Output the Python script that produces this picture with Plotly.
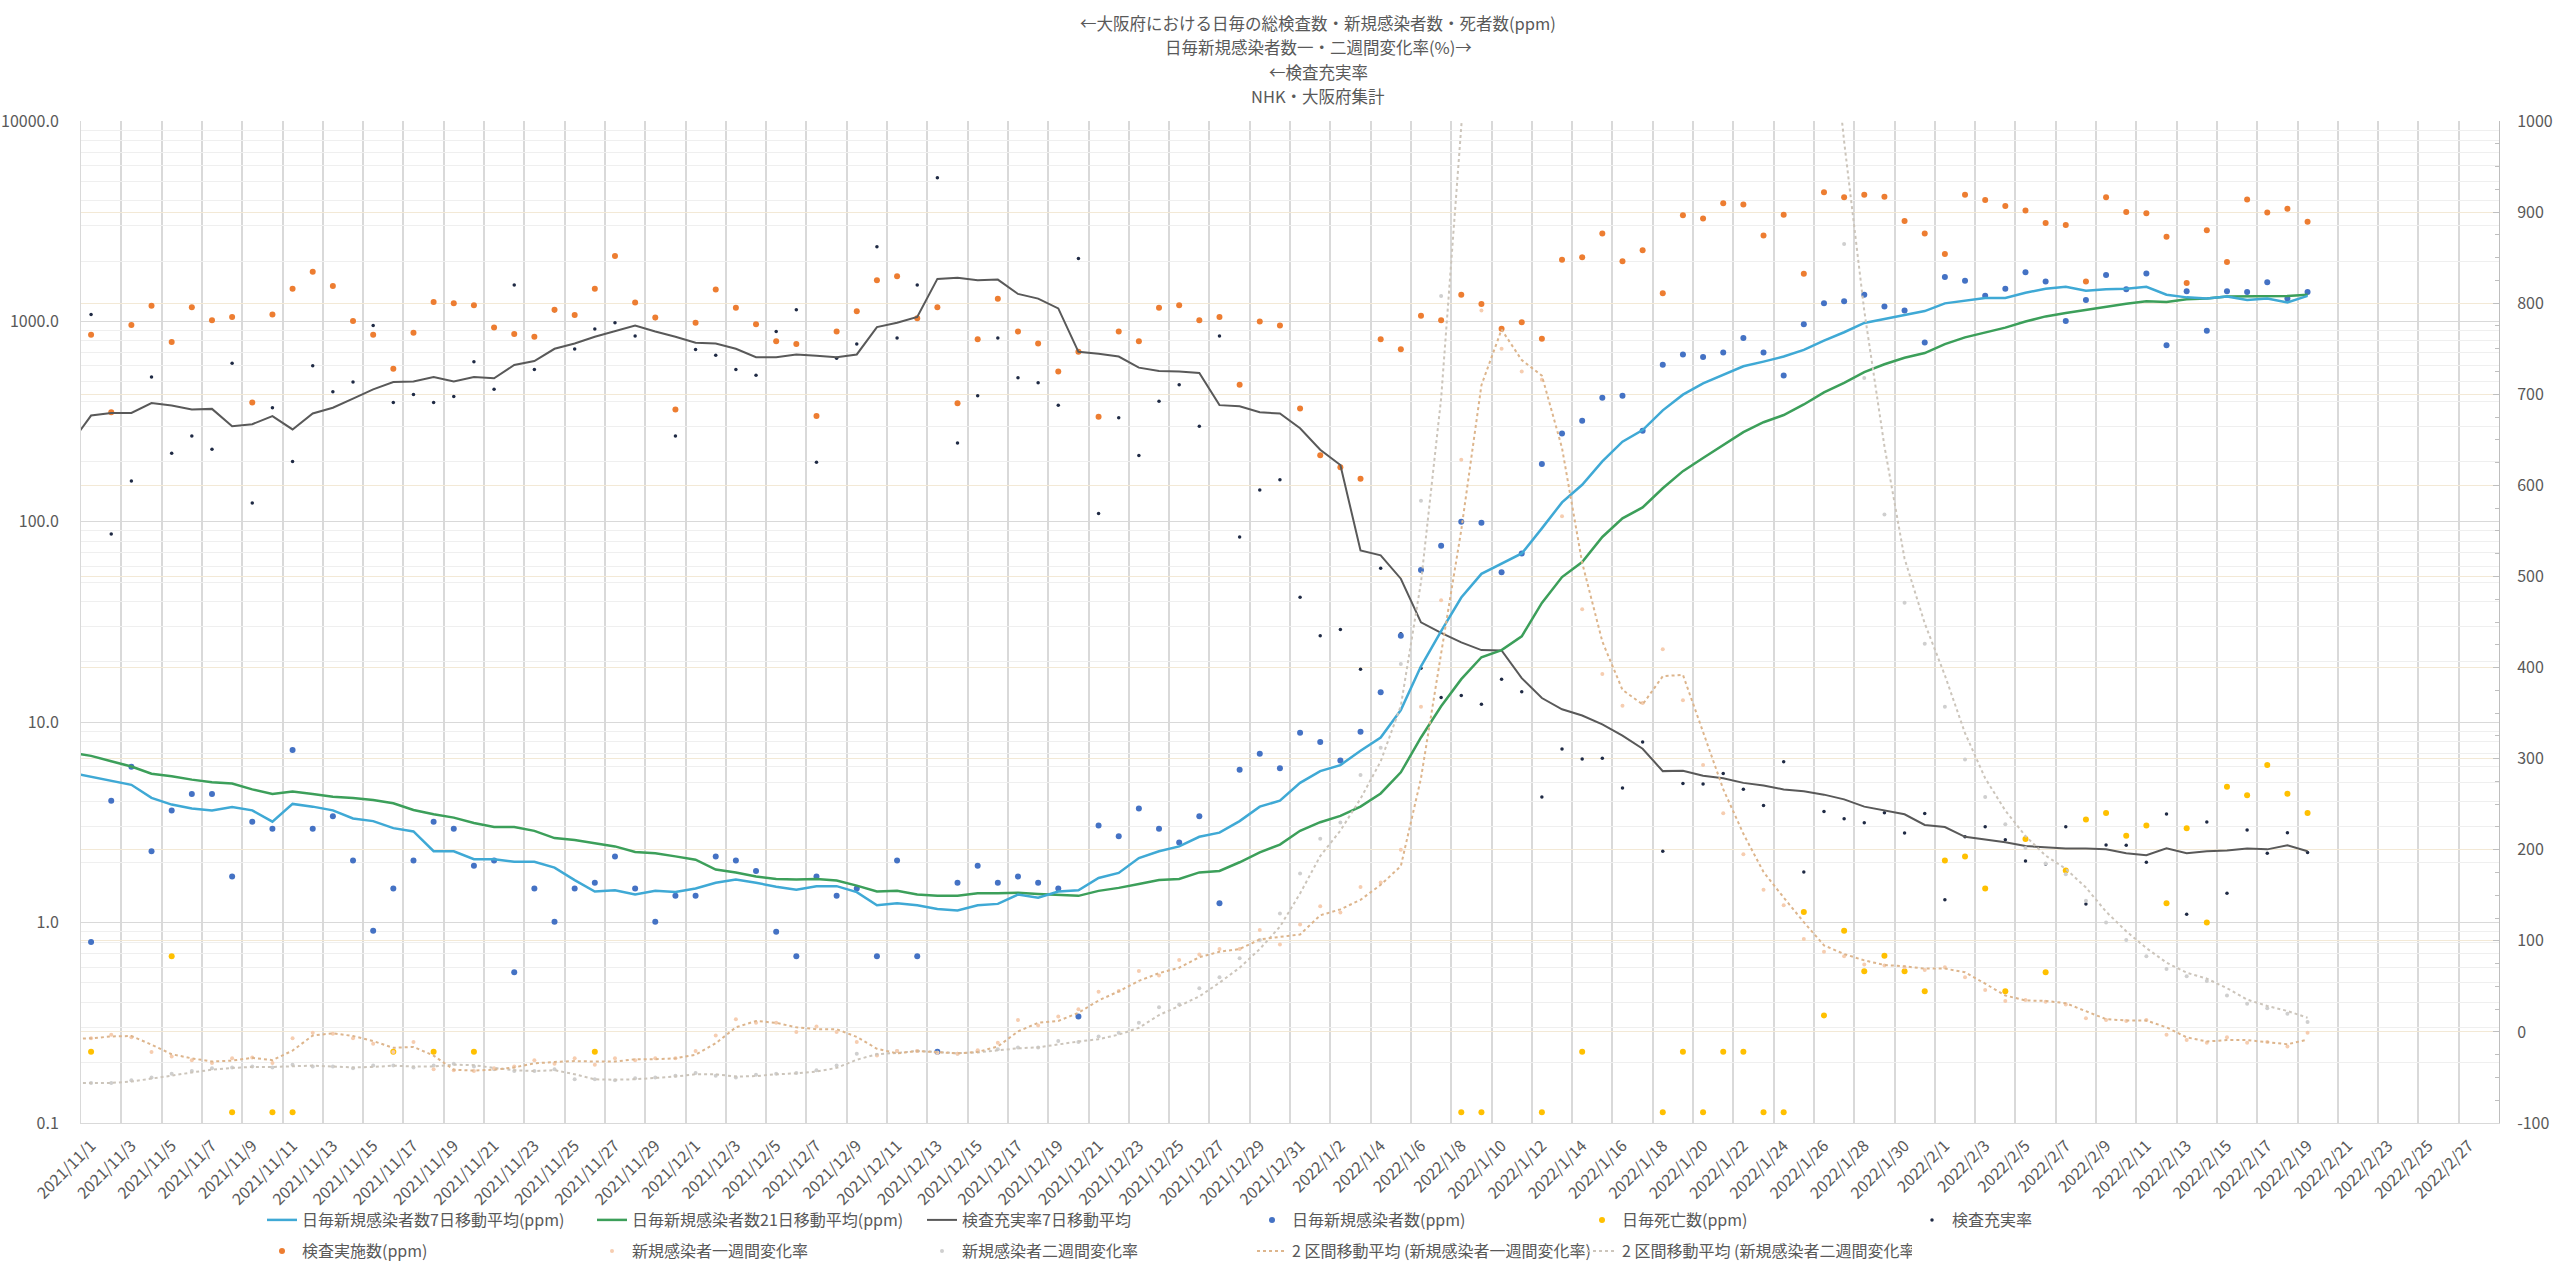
import pandas as pd
import plotly.graph_objects as go

N = None
# daily index: 2021/10/30 ... 2022/2/19 (first two days only feed the moving-average lines)
dates = pd.date_range("2021-10-30", "2022-02-19", freq="D")
x = [(d - pd.Timestamp("2021-11-01")).days for d in dates]

# 日毎新規感染者数(ppm)
new_cases = [N, N,
    0.80, 4.06, 6.0, 2.27, 3.63, 4.38, 4.38, 1.70, 3.19, 2.94,
    7.26, 2.94, 3.39, 2.04, 0.91, 1.48, 2.04, 3.19, 2.94, 1.92,
    2.04, 0.566, 1.48, 1.01, 1.48, 1.58, 2.14, 1.48, 1.01, 1.36,
    1.36, 2.14, 2.04, 1.81, 0.90, 0.68, 1.70, 1.36, 1.48, 0.68,
    2.04, 0.68, 0.227, 1.58, 1.92, 1.58, 1.70, 1.58, 1.48, 0.34,
    3.05, 2.70, 3.71, 2.94, 2.51, 3.39, 1.25, 5.79, 6.95, 5.89,
    8.85,
    7.96, 6.44, 8.97, 14.1, 27.0, 57.4, 76, 100, 99, 56,
    69.5, 194, 276, 319, 416, 425, 285, 607, 684, 664,
    700, 826, 700, 537, 968, 1233, 1262, 1359, 1186, 1132,
    784,
    1667, 1596, 1341, 1455, 1757, 1581, 1005, 1280, 1706, 1445,
    1734, 760, 1413, 897, 1413, 1403, 1570, 1300, 1403]

# 検査実施数(ppm)
tests = [N, N,
    857, 352, 960, 1196, 789, 1178, 1013, 1052, 394, 1084,
    1455, 1771, 1500, 1005, 857, 580, 877, 1251, 1233, 1205,
    933, 865, 839, 1143, 1076, 1455, 2122, 1242, 1045, 363,
    984, 1444, 1169, 968, 795, 772, 337, 891, 1125, 1603,
    1679, 1036, 1178, 391, 814, 1299, 891, 776, 562, 705,
    334, 891, 795, 1169, 1205, 1013, 1052, 483, 998, 953,
    368,
    215, 187, 164, 814, 726, 1067, 1013, 1358, 1222, 918,
    990, 820, 2028, 2088, 2744, 1995, 2268, 1380, 3388, 3264,
    3882, 3826, 2685, 3410, 1731, 4415, 4159, 4285, 4185, 3167,
    2744,
    2171, 4285, 4034, 3767, 3575, 3097, 3027, 1581, 4159, 3516,
    3467, 2642, 1556, 2849, 1981, 4063, 3491, 3652, 3142]

# 検査充実率 (daily)
ratio = [N, N,
    1084, 87, 160, 528, 220, 268, 230, 619, 124, 371,
    200, 601, 445, 498, 953, 394, 432, 394, 422, 629,
    458, 1520, 575, 1130, 729, 916, 984, 845, 1035, 268,
    724, 677, 575, 538, 891, 1143, 198, 655, 772, 2361,
    826, 1520, 5212, 247, 425, 826, 524, 494, 382, 2061,
    110, 331, 214, 400, 483, 300, 845, 84, 144, 162,
    42,
    27, 29, 18.4, 58.7, 27.6, 18.6, 13.3, 13.6, 12.3, 16.4,
    14.2, 4.23, 7.35, 6.55, 6.60, 4.69, 7.96, 2.27, 4.95, 4.92,
    5.55, 4.63, 3.84, 6.35, 1.79, 3.58, 3.30, 3.15, 3.53, 2.80,
    3.50,
    1.30, 2.68, 3.01, 2.59, 2.03, 1.96, 3.01, 1.24, 2.44, 2.43,
    2.00, 3.48, 1.10, 3.18, 1.40, 2.90, 2.22, 2.81, 2.24]

# 日毎死亡数(ppm)
deaths = [N, N,
    0.227, N, N, N, 0.68, N, N, 0.113, N, 0.113,
    0.113, N, N, N, N, 0.227, N, 0.227, N, 0.227,
    N, N, N, N, N, 0.227, N, N, N, N,
    N, N, N, N, N, N, N, N, N, N,
    N, N, N, N, N, N, N, N, N, N,
    N, N, N, N, N, N, N, N, N, N,
    N,
    N, N, N, N, N, N, N, 0.113, 0.113, N,
    N, 0.113, N, 0.227, N, N, N, 0.113, 0.227, 0.113,
    0.227, 0.227, 0.113, 0.113, 1.13, 0.344, 0.91, 0.571, 0.684, 0.571,
    0.454,
    2.04, 2.14, 1.48, 0.454, 2.61, 0.566, 1.82, 3.27, 3.52, 2.71,
    3.05, 1.25, 2.96, 1.00, 4.76, 4.32, 6.11, 4.40, 3.52]

# 検査充実率7日移動平均
ratio_ma7 = [N, 247,
    339, 349, 349, 391, 380, 363, 366, 300, 307, 337,
    289, 347, 371, 412, 458, 498, 501, 528, 501, 528,
    520, 606, 634, 730, 776, 839, 898, 953, 891, 839,
    782, 776, 730, 663, 663, 684, 673, 663, 684, 937,
    984, 1052, 1630, 1653, 1603, 1617, 1371, 1299, 1161, 705,
    689, 668, 588, 566, 562, 553, 382, 377, 352, 347,
    293,
    229, 192, 72, 68, 52, 31.5, 27.9, 25, 22.9, 22.8,
    16.6, 13.2, 11.6, 10.8, 9.75, 8.57, 7.37, 5.70, 5.72, 5.41,
    5.25, 4.98, 4.83, 4.62, 4.52, 4.35, 4.12, 3.79, 3.63, 3.47,
    3.07,
    3.00, 2.68, 2.60, 2.52, 2.41, 2.37, 2.34, 2.34, 2.32, 2.22,
    2.17, 2.35, 2.22, 2.27, 2.29, 2.34, 2.32, 2.43, 2.27]

# 日毎新規感染者数7日移動平均(ppm)
cases_ma7 = [N, 5.6,
    5.33, 5.09, 4.87, 4.19, 3.88, 3.71, 3.63, 3.77, 3.63, 3.19,
    3.91, 3.79, 3.63, 3.31, 3.21, 2.96, 2.85, 2.27, 2.27, 2.07,
    2.07, 2.01, 2.01, 1.88, 1.63, 1.43, 1.45, 1.38, 1.44, 1.42,
    1.48, 1.58, 1.64, 1.58, 1.51, 1.46, 1.52, 1.52, 1.42, 1.22,
    1.25, 1.22, 1.17, 1.15, 1.22, 1.24, 1.38, 1.33, 1.43, 1.45,
    1.67, 1.77, 2.10, 2.27, 2.40, 2.68, 2.81, 3.21, 3.79, 4.06,
    4.98,
    5.70, 6.11, 7.21, 8.39, 11.5, 19.0, 28.5, 41.9, 55, 62,
    69.5, 92.7, 125, 153, 200, 251, 287, 360, 431, 491,
    541, 597, 630, 668, 721, 802, 883, 982, 1028, 1076,
    1126,
    1230, 1270, 1309, 1309, 1390, 1455, 1489, 1422, 1445, 1455,
    1489, 1359, 1318, 1300, 1330, 1280, 1300, 1242, 1340]

# 日毎新規感染者数21日移動平均(ppm)
cases_ma21 = [N, 7.05,
    6.79, 6.39, 6.01, 5.53, 5.37, 5.17, 5.02, 4.94, 4.62, 4.38,
    4.51, 4.38, 4.25, 4.19, 4.09, 3.94, 3.65, 3.47, 3.34, 3.14,
    3.00, 3.00, 2.87, 2.64, 2.58, 2.49, 2.40, 2.25, 2.22, 2.14,
    2.06, 1.84, 1.78, 1.70, 1.65, 1.64, 1.65, 1.62, 1.53, 1.43,
    1.44, 1.38, 1.36, 1.36, 1.40, 1.40, 1.41, 1.39, 1.38, 1.36,
    1.44, 1.49, 1.56, 1.63, 1.65, 1.78, 1.81, 2.00, 2.24, 2.45,
    2.87,
    3.17, 3.41, 3.79, 4.41, 5.62, 8.39, 12.0, 16.4, 21.1, 22.9,
    26.8, 39.4, 53, 63, 84, 104, 118, 147, 179, 208,
    241, 280, 314, 341, 385, 442, 494, 558, 611, 659,
    695,
    770, 832, 883, 931, 998, 1059, 1101, 1143, 1186, 1224,
    1262, 1250, 1290, 1300, 1330, 1330, 1340, 1340, 1360]

# 新規感染者一週間変化率(%)
week1 = [-8, -7,
    -7, -3, -6, -22, -27, -31, -34, -29, -28, -34,
    -7, -1, -2, -7, -13, -22, -11, -41, -42, -43,
    -40, -38, -31, -35, -29, -36, -29, -31, -29, -29,
    -21, -4, 14, 10, 10, 0, 6, 0, -11, -26,
    -21, -21, -23, -24, -20, -12, 13, 7, 17, 25,
    44, 45, 67, 62, 79, 85, 91, 91, 112, 96,
    118,
    138, 131, 159, 164, 200, 357, 474, 628, 792, 750,
    725, 716, 566, 464, 393, 358, 361, 420, 364, 293,
    240, 195, 156, 139, 102, 88, 83, 74, 73, 71,
    68,
    71, 60, 46, 34, 35, 33, 30, 15, 13, 12,
    13, -3, -9, -12, -6, -12, -11, -16, -1]

# 新規感染者二週間変化率(%)
week2 = [-56, -56,
    -56, -56, -53, -50, -46, -43, -40, -39, -38, -39,
    -36, -38, -38, -40, -37, -37, -39, -37, -35, -38,
    -41, -43, -43, -41, -52, -52, -53, -51, -50, -48,
    -45, -48, -50, -47, -46, -45, -42, -37, -24, -25,
    -21, -21, -23, -24, -21, -19, -17, -17, -10, -11,
    -5, -1, 10, 27, 30, 48, 60, 81, 101, 130,
    174,
    212, 230, 282, 312, 404, 583, 808, 1180, 1390, 1520,
    1500, 1770, 2240, 2400, 2890, 3380, 3380, 3600, 3330, 2570,
    1970, 1570, 1340, 1280, 1290, 1090, 865, 718, 568, 471,
    426,
    357, 299, 258, 228, 202, 185, 173, 144, 120, 101,
    83, 69, 61, 56, 40, 31, 26, 20, 11]

for arr in (new_cases, tests, ratio, deaths, ratio_ma7, cases_ma7, cases_ma21, week1, week2):
    assert len(arr) == len(x), len(arr)

# Excel "2区間移動平均" trendlines
week1_trend = pd.Series(week1, dtype=float).rolling(2).mean().tolist()
week2_trend = pd.Series(week2, dtype=float).rolling(2).mean().tolist()

tick_dates = pd.date_range("2021-11-01", periods=60, freq="2D")
tick_vals = [(d - pd.Timestamp("2021-11-01")).days for d in tick_dates]
tick_text = [f"{d.year}/{d.month}/{d.day}" for d in tick_dates]

left_vals = [0.1, 1, 10, 100, 1000, 10000]
left_text = ["0.1", "1.0", "10.0", "100.0", "1000.0", "10000.0"]
right_vals = list(range(-100, 1001, 100))
right_text = [str(v) for v in right_vals]

title_lines = ["←大阪府における日毎の総検査数・新規感染者数・死者数(ppm)",
               "日毎新規感染者数一・二週間変化率(%)→",
               "←検査充実率",
               "NHK・大阪府集計"]

FONT = "Noto Sans CJK JP"
TXT = "#595959"
W, H = 2560, 1268
L, R, T, B = 81, 61, 121, 145
PW, PH = W - L - R, H - T - B

fig = go.Figure()

def add(y, name, legend, rank, yaxis="y", mode="markers", **kw):
    fig.add_trace(go.Scatter(x=x, y=y, name=name, mode=mode, yaxis=yaxis,
                             legend=legend, legendrank=rank, hoverinfo="skip", **kw))

# faint change-rate dots and their trendlines (secondary axis)
add(week2, "新規感染者二週間変化率", "legend2", 3, yaxis="y2",
    marker=dict(size=4, color="#CFCFCF"))
add(week1, "新規感染者一週間変化率", "legend2", 2, yaxis="y2",
    marker=dict(size=4, color="#F6CDB0"))
add(week2_trend, "2 区間移動平均 (新規感染者二週間変化率)", "legend2", 5, yaxis="y2",
    mode="lines", line=dict(color="#CCC5BB", width=2, dash="dot"))
add(week1_trend, "2 区間移動平均 (新規感染者一週間変化率)", "legend2", 4, yaxis="y2",
    mode="lines", line=dict(color="#DDB58C", width=2, dash="dot"))

# daily dots (primary log axis)
add(ratio, "検査充実率", "legend", 6, marker=dict(size=3.5, color="#1F2A44"))
add(tests, "検査実施数(ppm)", "legend2", 1, marker=dict(size=6, color="#ED7D31"))
add(deaths, "日毎死亡数(ppm)", "legend", 5, marker=dict(size=6, color="#FFC000"))
add(new_cases, "日毎新規感染者数(ppm)", "legend", 4, marker=dict(size=6, color="#4472C4"))

# moving-average lines
add(ratio_ma7, "検査充実率7日移動平均", "legend", 3, mode="lines",
    line=dict(color="#595959", width=2))
add(cases_ma21, "日毎新規感染者数21日移動平均(ppm)", "legend", 2, mode="lines",
    line=dict(color="#3C9F5A", width=2.5))
add(cases_ma7, "日毎新規感染者数7日移動平均(ppm)", "legend", 1, mode="lines",
    line=dict(color="#3FA9D5", width=2.5))

minor_vals = [m * 10 ** e for e in range(-1, 4) for m in range(2, 10)]

leg_common = dict(orientation="h", xanchor="left", yanchor="middle",
                  x=(262 - L) / PW, font=dict(family=FONT, size=16, color=TXT),
                  entrywidth=285, entrywidthmode="pixels", itemwidth=30,
                  bgcolor="rgba(0,0,0,0)", borderwidth=0, tracegroupgap=0)

fig.update_layout(
    width=W, height=H, autosize=False,
    margin=dict(l=L, r=R, t=T, b=B, pad=0, autoexpand=False),
    paper_bgcolor="white", plot_bgcolor="white",
    font=dict(family=FONT, size=16, color=TXT),
    showlegend=True,
    legend=dict(leg_common, y=(T + PH - 1220) / PH),
    legend2=dict(leg_common, y=(T + PH - 1251) / PH),
    xaxis=dict(range=[-0.5, 119.5], tickmode="array", tickvals=tick_vals,
               ticktext=tick_text, tickangle=-45, showgrid=False, zeroline=False,
               ticks="", ticklabelstandoff=6, automargin=False,
               tickfont=dict(family=FONT, size=16, color=TXT),
               showline=True, linecolor="#D9D9D9", linewidth=1,
               minor=dict(tickmode="array",
                          tickvals=[v - 0.5 for v in range(0, 122, 2)],
                          showgrid=True, gridcolor="#D9D9D9", gridwidth=1.5, ticks="")),
    yaxis=dict(type="log", range=[-1, 4], tickmode="array", tickvals=left_vals,
               ticktext=left_text, showgrid=True, gridcolor="#D9D9D9", gridwidth=1,
               zeroline=False, ticks="", ticklabelstandoff=18, automargin=False,
               tickfont=dict(family=FONT, size=16, color=TXT),
               showline=True, linecolor="#D9D9D9",
               minor=dict(tickmode="array", tickvals=minor_vals, showgrid=True,
                          gridcolor="#EFEFEF", gridwidth=1, ticks="")),
    yaxis2=dict(overlaying="y", side="right", range=[-100, 1000], tickmode="array",
                tickvals=right_vals, ticktext=right_text, showgrid=True,
                gridcolor="#F3E9D6", gridwidth=1, zeroline=False, automargin=False,
                ticks="inside", ticklen=6, tickcolor="#BFBFBF", ticklabelstandoff=14,
                tickfont=dict(family=FONT, size=16, color=TXT),
                showline=True, linecolor="#BFBFBF",
                minor=dict(tickmode="linear", tick0=-100, dtick=25, ticks="inside",
                           ticklen=4, tickcolor="#BFBFBF", showgrid=False)),
)

for k, line in enumerate(title_lines):
    fig.add_annotation(text=line, xref="paper", yref="paper",
                       x=(1318 - L) / PW, y=(T + PH - (23 + 24.5 * k)) / PH,
                       xanchor="center", yanchor="middle", showarrow=False,
                       font=dict(family=FONT, size=16.5, color=TXT))

fig.write_html("out.html")
